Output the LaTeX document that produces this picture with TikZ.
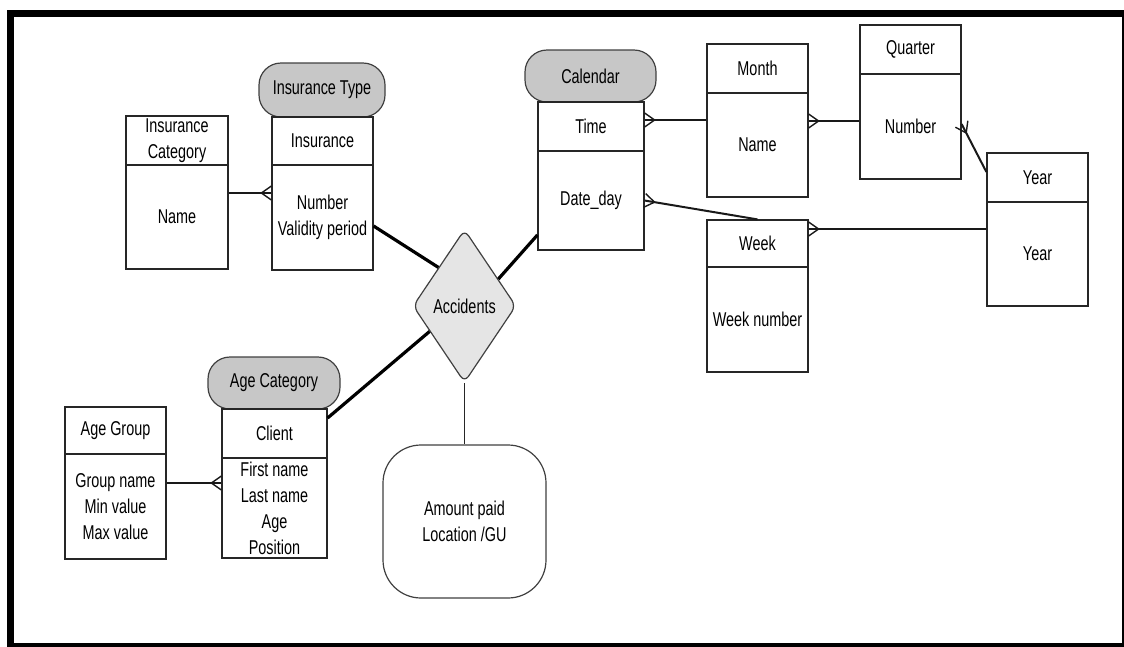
\documentclass[tikz,border=0pt]{standalone}
\usepackage{fontspec}
\setmainfont{Liberation Sans}[FakeStretch=0.72]
\usetikzlibrary{shapes.geometric,calc}

% crow's foot drawn at the "many" end #2 of a relation coming from #1
\newcommand\crowfoot[2]{%
  \draw[crowline] ($(#2)!7pt!90:(#1)$) -- ($(#2)!10pt!(#1)$) -- ($(#2)!7pt!-90:(#1)$);}

\begin{document}
\begin{tikzpicture}[x=1pt,y=-1pt,
  font=\fontsize{20}{26}\selectfont,
  box/.style={draw=black!85, line width=1.2pt, fill=white, inner sep=0pt, align=center},
  pill/.style={draw=black!75, line width=1.2pt, fill=black!22, rounded corners=22pt, inner sep=0pt},
  rel/.style={line width=2pt, black!90},
  mainrel/.style={line width=3.2pt, black},
  crowline/.style={line width=1.4pt, black!90}]

\useasboundingbox (0,0) rectangle (1124,646);
% page frame
\draw[line width=7pt] (10.5,13.5) rectangle (1125.5,646.5);

% Insurance Category
\node[box, minimum width=102pt, minimum height=49pt]  (icatH) at (177,140.5) {Insurance\\Category};
\node[box, minimum width=102pt, minimum height=104pt] (icatB) at (177,217) {Name};

% Insurance Type
\node[pill, minimum width=126pt, minimum height=54pt] (insT) at (322,90) {Insurance Type};
\node[box, minimum width=101pt, minimum height=48pt]  (insH) at (322.5,141) {Insurance};
\node[box, minimum width=101pt, minimum height=105pt] (insB) at (322.5,217.5) {Number\\Validity period};

% Calendar
\node[pill, minimum width=131pt, minimum height=52pt] (calP) at (590.5,76) {Calendar};
\node[box, minimum width=106pt, minimum height=49pt]  (calH) at (591,126.5) {Time};
\node[box, minimum width=106pt, minimum height=99pt]  (calB) at (591,200.5) {Date\_day};

% Month
\node[box, minimum width=101pt, minimum height=49pt]  (monthH) at (757.5,68.5) {Month};
\node[box, minimum width=101pt, minimum height=104pt] (monthB) at (757.5,145) {Name};

% Quarter
\node[box, minimum width=101pt, minimum height=49pt]  (qH) at (910.5,49.5) {Quarter};
\node[box, minimum width=101pt, minimum height=105pt] (qB) at (910.5,126.5) {Number};

% Year
\node[box, minimum width=101pt, minimum height=49pt]  (yearH) at (1037.5,177.5) {Year};
\node[box, minimum width=101pt, minimum height=104pt] (yearB) at (1037.5,254) {Year};

% Week
\node[box, minimum width=101pt, minimum height=47pt]  (weekH) at (757.5,243.5) {Week};
\node[box, minimum width=101pt, minimum height=105pt] (weekB) at (757.5,319.5) {Week number};

% Age Category / Client
\node[pill, minimum width=132pt, minimum height=52pt] (ageP) at (274,383) {Age Category};
\node[box, minimum width=105pt, minimum height=49pt]  (clientH) at (274.5,433.5) {Client};
\node[box, minimum width=105pt, minimum height=100pt] (clientB) at (274.5,508) {First name\\Last name\\Age\\Position};

% Age Group
\node[box, minimum width=101pt, minimum height=47pt]  (agH) at (115.5,430.5) {Age Group};
\node[box, minimum width=101pt, minimum height=105pt] (agB) at (115.5,506.5) {Group name\\Min value\\Max value};

% Accidents relationship and its attributes
\node[diamond, draw=black!75, line width=1.2pt, fill=black!10, inner sep=0pt,
      minimum width=103pt, minimum height=153pt, rounded corners=7pt] (acc) at (464.5,306) {Accidents};
\node[box, draw=black!75, minimum width=163pt, minimum height=153pt, rounded corners=38pt]
      (amount) at (464.5,521.5) {Amount paid\\Location /GU};

% relationships of the fact
\draw[mainrel] ([yshift=-8.5pt]insB.east) -- (acc.north west);
\draw[mainrel] ([yshift=-34.5pt]calB.west) -- ($(acc.north)!0.65!(acc.east)$);
\draw[mainrel] ([yshift=15.5pt]clientH.east) -- ($(acc.west)!0.33!(acc.south)$);
\draw[line width=1.3pt, black!85] (acc.south) -- (amount.north);

% Insurance Category -- Insurance
\coordinate (a1) at ([yshift=24pt]icatB.east);
\coordinate (a2) at (a1 -| insB.west);
\draw[rel] (a1) -- (a2); \crowfoot{a1}{a2}

% Time -- Month
\coordinate (b1) at ([yshift=6.5pt]calH.east);
\coordinate (b2) at (b1 -| monthB.west);
\draw[rel] (b1) -- (b2); \crowfoot{b2}{b1}

% Month -- Quarter
\coordinate (c1) at ([yshift=24pt]monthB.east);
\coordinate (c2) at (c1 -| qB.west);
\draw[rel] (c1) -- (c2); \crowfoot{c2}{c1}

% Quarter -- Year
\coordinate (d1) at ([yshift=2.5pt]qB.east);
\coordinate (d2) at ([yshift=5.5pt]yearH.west);
\draw[rel] (d1) -- (d2); \crowfoot{d2}{d1}

% Date_day -- Week
\coordinate (e1) at (calB.east);
\coordinate (e2) at (weekH.north);
\draw[rel] (e1) -- (e2); \crowfoot{e2}{e1}

% Week -- Year
\coordinate (f1) at ([yshift=14.5pt]weekH.east);
\coordinate (f2) at (f1 -| yearB.west);
\draw[rel] (f1) -- (f2); \crowfoot{f2}{f1}

% Age Group -- Client
\coordinate (g1) at ([yshift=23.5pt]agB.east);
\coordinate (g2) at (g1 -| clientB.west);
\draw[rel] (g1) -- (g2); \crowfoot{g1}{g2}

\end{tikzpicture}
\end{document}
